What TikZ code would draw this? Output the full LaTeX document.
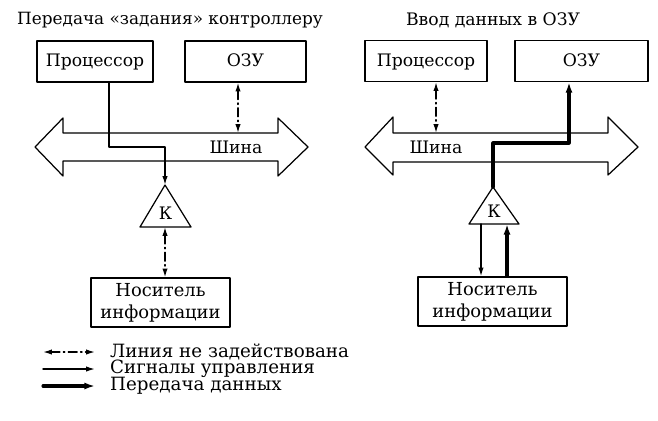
\documentclass[tikz,border=0pt]{standalone}
\usepackage{fontspec}
\setmainfont{DejaVu Serif}
\usetikzlibrary{arrows.meta}
\begin{document}
\begin{tikzpicture}[x=0.02cm,y=-0.02cm,line cap=round,line join=round,
  font=\fontsize{9.8}{12.5}\selectfont,
  box/.style={draw,line width=0.7pt,minimum height=0.82cm,inner sep=2pt,
    text height=1.6ex,text depth=0.4ex},
  carrier/.style={draw,line width=0.7pt,minimum height=0.98cm,align=center,inner sep=2pt,
    font=\fontsize{10.2}{12.5}\selectfont},
  bus/.style={draw,line width=0.7pt},
  tri/.style={draw,line width=0.7pt},
  legend/.style={anchor=west,inner sep=1pt,font=\fontsize{10.4}{12}\selectfont},
  idle/.style={line width=0.8pt,dash pattern=on 5pt off 2pt on 0.8pt off 2pt,
    {Latex[length=5pt,width=3pt]}-{Latex[length=5pt,width=3pt]}},
  signal/.style={line width=0.8pt,-{Latex[length=5pt,width=3pt]}},
  data/.style={line width=1.8pt,-{Latex[length=6pt,width=4pt]}}]
  \useasboundingbox (0,0) rectangle (658,420);
  % left part
  \node[font=\fontsize{9.6}{11}\selectfont] (titleL) at (170,20) {Передача «задания» контроллеру};
  \node[box,minimum width=2.32cm] (cpuL) at (95,61.5) {Процессор};
  \node[box,minimum width=2.42cm] (ramL) at (245.5,61.5) {ОЗУ};
  \draw[bus] (35,147) -- (63,118) -- (63,133) -- (278,133) -- (278,118) -- (308,147)
    -- (278,176) -- (278,161) -- (63,161) -- (63,176) -- cycle;
  \node (busL) at (236,147) {Шина};
  \coordinate (busLtop) at (238,133);
  \coordinate (kLapex) at (165,185);
  \coordinate (kLbl) at (140,227);
  \coordinate (kLbr) at (191,227);
  \draw[tri] (kLapex) -- (kLbr) -- (kLbl) -- cycle;
  \node (kL) at (165.5,213) {К};
  \node[carrier,minimum width=2.78cm] (medL) at (160.5,302.5) {Носитель\\информации};
  \draw[signal] (cpuL.south -| 109,0) |- (kLapex |- 0,147) -- (kLapex);
  \draw[idle] (ramL.south -| busLtop) -- (busLtop);
  \draw[idle] (kLapex |- kLbl) -- (kLapex |- medL.north);
  % right part
  \node (titleR) at (493,20) {Ввод данных в ОЗУ};
  \node[box,minimum width=2.44cm] (cpuR) at (426,61) {Процессор};
  \node[box,minimum width=2.66cm] (ramR) at (581.5,61) {ОЗУ};
  \draw[bus] (365,147) -- (393,117) -- (393,133) -- (608,133) -- (608,117) -- (638,147)
    -- (608,175) -- (608,162) -- (393,162) -- (393,175) -- cycle;
  \node (busR) at (436,147) {Шина};
  \coordinate (busRtop) at (436,133);
  \coordinate (kRapex) at (493,187);
  \coordinate (kRbl) at (469,224);
  \coordinate (kRbr) at (519,224);
  \draw[tri] (kRapex) -- (kRbr) -- (kRbl) -- cycle;
  \node (kR) at (494,211) {К};
  \node[carrier,minimum width=2.98cm] (medR) at (492.5,301.5) {Носитель\\информации};
  \draw[idle] (cpuR.south -| busRtop) -- (busRtop);
  \draw[data] (kRapex) -- (kRapex |- 0,143) -| (ramR.south -| 569,0);
  \draw[signal] (kRbl -| 481,0) -- (medR.north -| 481,0);
  \draw[data] (medR.north -| 507,0) -- (kRbl -| 507,0);
  % legend
  \coordinate (lg1a) at (43,352);
  \coordinate (lg1b) at (95,352);
  \coordinate (lg2a) at (43,369);
  \coordinate (lg2b) at (95,369);
  \coordinate (lg3a) at (43,386);
  \coordinate (lg3b) at (95,386);
  \draw[idle] (lg1a) -- (lg1b);
  \draw[signal] (lg2a) -- (lg2b);
  \draw[data] (lg3a) -- (lg3b);
  \node[legend] (lgt1) at (108,352) {Линия не задействована};
  \node[legend] (lgt2) at (108,369) {Сигналы управления};
  \node[legend] (lgt3) at (108,386) {Передача данных};
\end{tikzpicture}
\end{document}
